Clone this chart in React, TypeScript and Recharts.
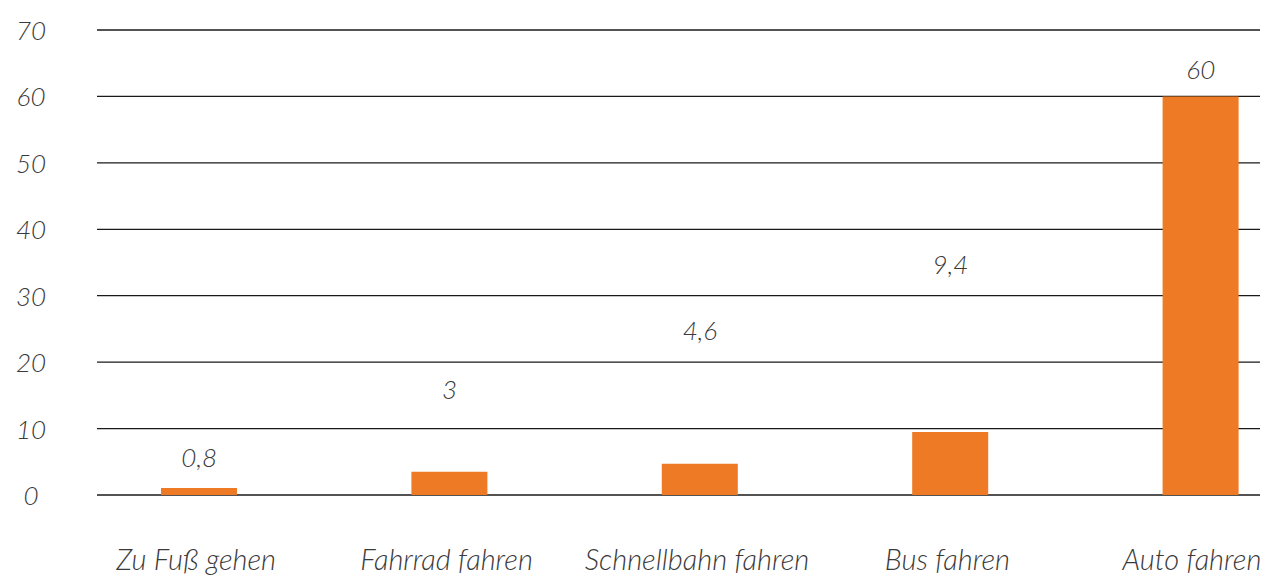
import {
  Bar,
  CartesianGrid,
  ComposedChart,
  LabelList,
  Line,
  XAxis,
  YAxis,
} from "recharts";

const categories = [
  "Zu Fuß gehen",
  "Fahrrad fahren",
  "Schnellbahn fahren",
  "Bus fahren",
  "Auto fahren",
];
// bar heights as drawn
const shares = [1.05, 3.5, 4.7, 9.5, 60];
// printed value labels
const valueLabels = ["0,8", "3", "4,6", "9,4", "60"];
// height (in axis units) where each label sits
const labelHeights = [5.6, 15.8, 24.7, 34.6, 64];
const yTicks = [0, 10, 20, 30, 40, 50, 60, 70];

const data = categories.map((name, i) => ({
  name,
  share: shares[i],
  label: valueLabels[i],
  labelPos: labelHeights[i],
}));

const FONT = "Lato, 'Open Sans', sans-serif";
const TEXT = "#3a3a3a";
const CHART_W = 1260;

const YTick = ({ y, payload }: any) => (
  <text
    x={23}
    y={y}
    textAnchor="middle"
    dominantBaseline="central"
    fontFamily={FONT}
    fontStyle="italic"
    fontWeight={300}
    fontSize={26}
    fill={TEXT}
  >
    {payload.value}
  </text>
);

const XTick = ({ x, payload }: any) => (
  // keep the last label inside the picture
  <text
    x={Math.min(x - 3, CHART_W - 76)}
    y={562}
    textAnchor="middle"
    fontFamily={FONT}
    fontStyle="italic"
    fontWeight={300}
    fontSize={29}
    fill={TEXT}
  >
    {payload.value}
  </text>
);

const App = () => {
  return (
    <ComposedChart
      width={CHART_W}
      height={568}
      data={data}
      margin={{ top: 22, right: 0, left: 0, bottom: 0 }}
    >
      <CartesianGrid vertical={false} stroke="#1a1a1a" strokeWidth={1.3} />
      <XAxis
        dataKey="name"
        axisLine={false}
        tickLine={false}
        height={81}
        padding={{ left: -23, right: -58 }}
        tick={<XTick />}
        interval={0}
      />
      <YAxis
        domain={[0, 70]}
        ticks={yTicks}
        axisLine={false}
        tickLine={false}
        width={89}
        tick={<YTick />}
      />
      <Bar
        dataKey="share"
        fill="#EE7A25"
        barSize={76}
        isAnimationActive={false}
      />
      <Line
        dataKey="labelPos"
        stroke="none"
        dot={false}
        activeDot={false}
        isAnimationActive={false}
      >
        <LabelList
          dataKey="label"
          position="center"
          fontFamily={FONT}
          fontStyle="italic"
          fontWeight={300}
          fontSize={26}
          fill={TEXT}
        />
      </Line>
    </ComposedChart>
  );
};

export default App;
